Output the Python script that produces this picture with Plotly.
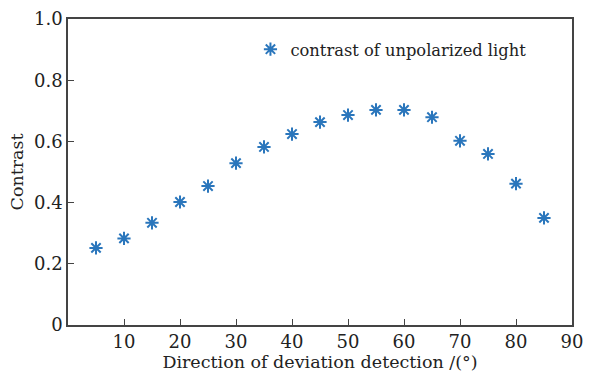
import plotly.graph_objects as go

angles = [5, 10, 15, 20, 25, 30, 35, 40, 45, 50, 55, 60, 65, 70, 75, 80, 85]
contrast = [0.252, 0.283, 0.334, 0.402, 0.454, 0.529, 0.582, 0.624, 0.663, 0.686,
            0.703, 0.703, 0.679, 0.602, 0.559, 0.462, 0.350]
x_ticks = [10, 20, 30, 40, 50, 60, 70, 80, 90]
y_ticks = [0, 0.2, 0.4, 0.6, 0.8, 1.0]
y_ticktext = ["0", "0.2", "0.4", "0.6", "0.8", "1.0"]

color = "#2a76bc"
font = "DejaVu Serif"

fig = go.Figure()
fig.add_trace(go.Scatter(
    x=angles, y=contrast, mode="markers", name="contrast of unpolarized light",
    marker=dict(symbol="asterisk-open", size=11, color=color,
                line=dict(color=color, width=2)),
))

axis_common = dict(showline=True, linecolor="#444", linewidth=1.5, mirror=True,
                    showgrid=False, zeroline=False, ticks="inside", ticklen=6,
                    tickcolor="#444", tickwidth=1.2, tickfont=dict(size=18),
                    automargin=False)

fig.update_layout(
    width=615, height=374,
    margin=dict(l=68, r=43, t=19, b=49),
    plot_bgcolor="white", paper_bgcolor="white",
    font=dict(family=font, size=16, color="#222"),
    xaxis=dict(range=[0, 90], tickvals=x_ticks, **axis_common,
               title=dict(text="Direction of deviation detection /(°)",
                          font=dict(size=17.5), standoff=4)),
    yaxis=dict(range=[0, 1.0], tickvals=y_ticks, ticktext=y_ticktext, **axis_common,
               title=dict(text="Contrast", font=dict(size=17.5), standoff=6)),
    showlegend=True,
    legend=dict(x=0.362, y=0.90, xanchor="left", yanchor="middle",
                bgcolor="rgba(0,0,0,0)", font=dict(size=16.3)),
)

fig.write_html("out.html")
